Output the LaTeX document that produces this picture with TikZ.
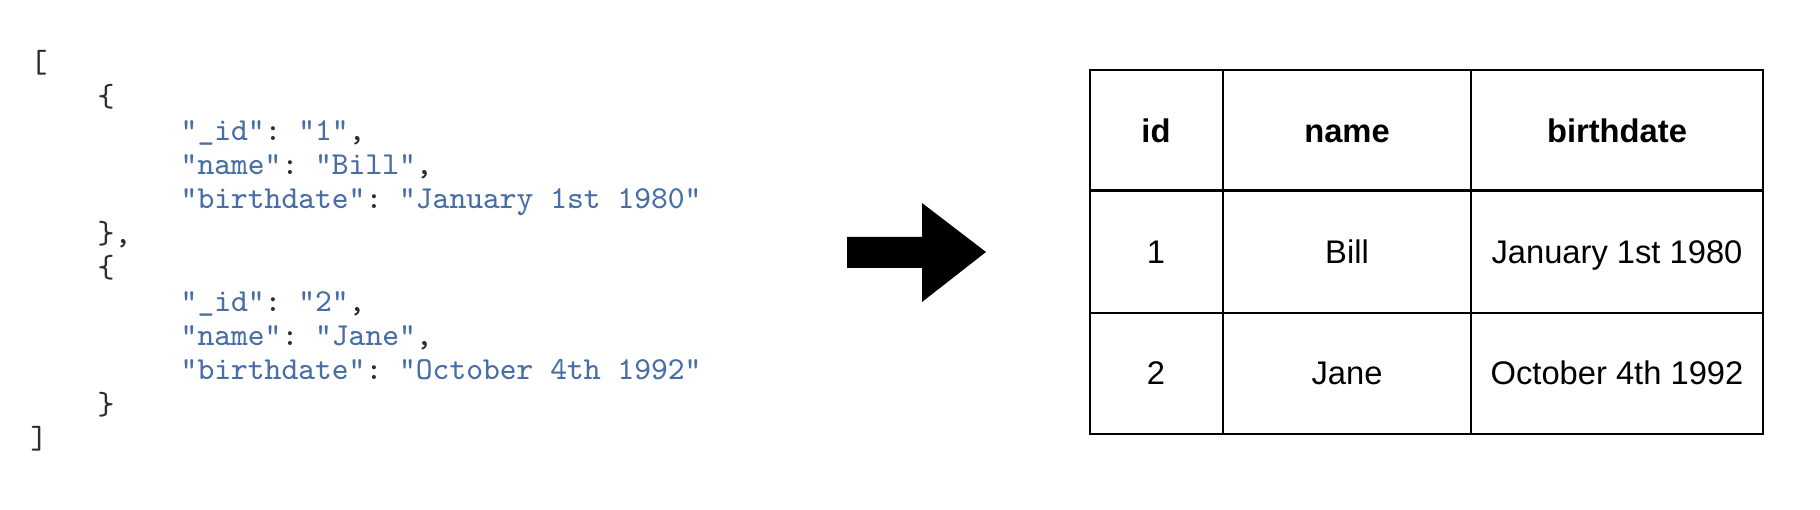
\documentclass[tikz,border=0pt]{standalone}
\usepackage{fontspec}
\setmainfont{Liberation Sans}
\setmonofont{Latin Modern Mono}
\definecolor{jsonblue}{RGB}{72,110,165}
\definecolor{jsongray}{RGB}{45,45,45}
\newcommand{\jstr}[1]{\textcolor{jsonblue}{#1}}

\begin{document}
\begin{tikzpicture}[x=0.01cm, y=-0.01cm,
        code/.style={anchor=base west, inner sep=0pt, text=jsongray,
            font=\ttfamily\fontsize{9.1}{11}\selectfont},
        cell/.style={anchor=base, inner sep=0pt, font=\fontsize{9.3}{11}\selectfont},
        head/.style={cell, font=\bfseries\fontsize{9.3}{11}\selectfont}]
    \useasboundingbox (0, 0) rectangle (1820, 510);
    % JSON on the left
    \node[code] (open) at (30, 73) {[};
    \node[code] (obja) at (97, 107) {\{};
    \node[code] (jida) at (180, 141) {\jstr{"\_id"}: \jstr{"1"},};
    \node[code] (jnamea) at (180, 175) {\jstr{"name"}: \jstr{"Bill"},};
    \node[code] (jdatea) at (180, 209) {\jstr{"birthdate"}: \jstr{"January 1st 1980"}};
    \node[code] (closea) at (97, 244) {\},};
    \node[code] (objb) at (97, 278) {\{};
    \node[code] (jidb) at (180, 312) {\jstr{"\_id"}: \jstr{"2"},};
    \node[code] (jnameb) at (180, 346) {\jstr{"name"}: \jstr{"Jane"},};
    \node[code] (jdateb) at (180, 380) {\jstr{"birthdate"}: \jstr{"October 4th 1992"}};
    \node[code] (closeb) at (97, 415) {\}};
    \node[code] (close) at (30, 449) {]};
    % the big arrow
    \fill[black] (847, 237) -- (922, 237) -- (922, 203) -- (986, 252)
        -- (922, 302) -- (922, 268) -- (847, 268) -- cycle;
    % table on the right
    \draw[line width=0.35pt] (1090, 70) rectangle (1763, 434);
    \draw[line width=0.35pt] (1223, 70) -- (1223, 434);
    \draw[line width=0.35pt] (1471, 70) -- (1471, 434);
    \draw[line width=0.35pt] (1090, 313) -- (1763, 313);
    \draw[line width=0.85pt] (1090, 191) -- (1763, 191);
    \node[head] (hid) at (1156, 143) {id};
    \node[head] (hname) at (1347, 143) {name};
    \node[head] (hdate) at (1617, 143) {birthdate};
    \node[cell] (ida) at (1156, 264) {1};
    \node[cell] (namea) at (1347, 264) {Bill};
    \node[cell] (datea) at (1617, 264) {January 1st 1980};
    \node[cell] (idb) at (1156, 385) {2};
    \node[cell] (nameb) at (1347, 385) {Jane};
    \node[cell] (dateb) at (1617, 385) {October 4th 1992};
\end{tikzpicture}
\end{document}
